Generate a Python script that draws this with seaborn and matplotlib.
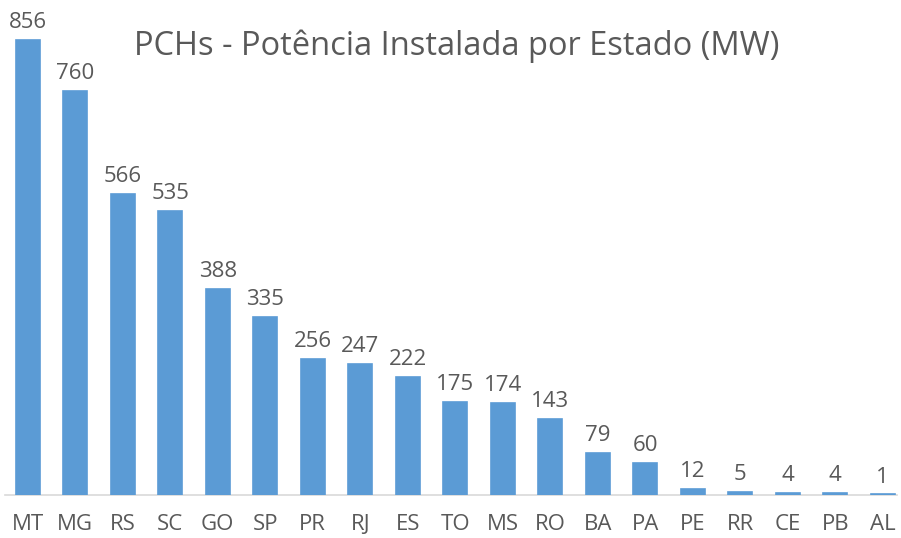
import matplotlib
matplotlib.use("Agg")
import matplotlib.pyplot as plt
import seaborn as sns
import pandas as pd

estados = ["MT", "MG", "RS", "SC", "GO", "SP", "PR", "RJ", "ES", "TO",
           "MS", "RO", "BA", "PA", "PE", "RR", "CE", "PB", "AL"]
potencia = [856, 760, 566, 535, 388, 335, 256, 247, 222, 175,
            174, 143, 79, 60, 12, 5, 4, 4, 1]
titulo = "PCHs - Potência Instalada por Estado (MW)"

df = pd.DataFrame({"Estado": estados, "MW": potencia})

sns.set_theme(style="white")
plt.rcParams["font.family"] = ["Open Sans", "DejaVu Sans"]

W, H = 901, 538
fig = plt.figure(figsize=(W / 100, H / 100), dpi=100)
ax = fig.add_axes([5 / W, 43 / H, 892 / W, 495 / H])

sns.barplot(data=df, x="Estado", y="MW", color="#5B9BD5", saturation=1,
            width=0.50, edgecolor="#5B9BD5", linewidth=1.2, ax=ax)

ax.set_ylim(0, 932)
ax.set_xlim(-0.48, 18.3)
for s in ["top", "right", "left"]:
    ax.spines[s].set_visible(False)
ax.spines["bottom"].set_color("#D9D9D9")
ax.spines["bottom"].set_linewidth(1.2)
ax.spines["bottom"].set_zorder(0)
ax.set_yticks([])
ax.set_xlabel("")
ax.set_ylabel("")
ax.tick_params(axis="x", length=0, pad=14, labelsize=16, labelcolor="#595959")

for c in ax.containers:
    ax.bar_label(c, labels=[str(v) for v in potencia], padding=5,
                 fontsize=16, color="#595959")

fig.text(457 / W, 1 - 46 / H, titulo, ha="center", va="center",
         fontsize=23.5, color="#595959")

fig.savefig("out.png", dpi=100)
